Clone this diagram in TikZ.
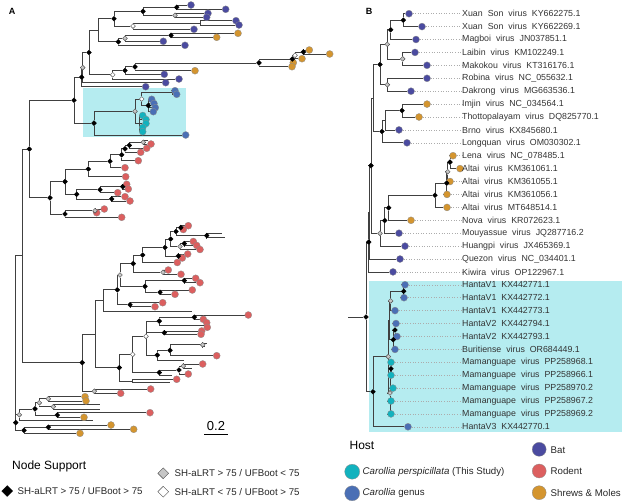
\documentclass[tikz,border=0pt]{standalone}
\usepackage{fontspec}
\setmainfont{Liberation Sans}
\usetikzlibrary{shapes.geometric}
\definecolor{batc}{HTML}{4B4BA0}
\definecolor{rodc}{HTML}{DC5F5F}
\definecolor{shrc}{HTML}{D4952F}
\definecolor{cpec}{HTML}{12B2BE}
\definecolor{cgec}{HTML}{4A6FB5}
\definecolor{boxc}{HTML}{B5ECF0}
\pgfdeclarelayer{back}
\pgfdeclarelayer{edges}
\pgfsetlayers{back,edges,main}
\tikzset{
  br/.style={draw=gray!50!black, line width=0.7pt},
  lead/.style={draw=gray!65, dotted, line width=0.6pt},
  nd/.style={diamond, inner sep=0pt, minimum size=5pt, line width=0.4pt},
  bk/.style={nd, fill=black, draw=black},
  gy/.style={nd, fill=gray!45, draw=black!70},
  wt/.style={nd, fill=white, draw=black!70},
  leaf/.style={circle, inner sep=0pt, minimum size=7pt, draw=black!45, line width=0.3pt},
  bat/.style={leaf, fill=batc},
  rod/.style={leaf, fill=rodc},
  shr/.style={leaf, fill=shrc},
  cpe/.style={leaf, fill=cpec},
  cge/.style={leaf, fill=cgec},
  lab/.style={anchor=west, inner sep=0pt, text=black!80, font={\fontsize{8.8}{10}\selectfont\spaceskip=5pt\relax}},
  legtxt/.style={anchor=west, inner sep=0pt, text=black!85, font=\fontsize{9.7}{11}\selectfont},
  headtxt/.style={anchor=west, inner sep=0pt, font=\fontsize{12}{14}\selectfont},
  panel/.style={inner sep=0pt, font=\bfseries\fontsize{9}{10}\selectfont}
}
\begin{document}
\begin{tikzpicture}[x=1pt, y=-1pt]
    \useasboundingbox (0,0) rectangle (624,501);
    \begin{pgfonlayer}{back}
        \fill[boxc] (83.3,88.3) rectangle (185.7,137.3);
        \fill[boxc] (369.3,280.7) rectangle (621.7,431.7);
    \end{pgfonlayer}
    \node[panel] (pa) at (12,11) {A};
    \node[panel] (pb) at (369,11) {B};

    % ---- panel A: bat clade
    \node[bat] (a0) at (191,5) {};
    \node[bat] (a1) at (225.7,9.3) {};
    \node[bat] (a2) at (208,13.3) {};
    \node[bat] (a3) at (206.7,17.3) {};
    \node[bat] (a4) at (236,20.7) {};
    \node[bat] (a5) at (239,25) {};
    \node[bat] (a6) at (194,29.3) {};
    \node[shr] (a7) at (238,33.3) {};
    \node[shr] (a8) at (216.7,37.3) {};
    \node[bat] (a9) at (163.3,41.3) {};
    \node[bat] (a10) at (185,45.3) {};
    \node[bk] (k1) at (176.7,7.3) {};
    \node[gy] (k2) at (175,15.3) {};
    \node[bk] (k3) at (143,11.3) {};
    \coordinate (k4) at (200,22.85);
    \node[wt] (k5) at (133,26.1) {};
    \node[bk] (k6) at (114,18.7) {};
    \node[bk] (k7) at (171,35.3) {};
    \node[gy] (k8) at (125,38.3) {};
    \node[bk] (k9) at (118.3,41.8) {};
    \coordinate (k10) at (98.3,30.25);
    \node[shr] (c0) at (309.3,50) {};
    \node[shr] (c1) at (329.7,54) {};
    \node[shr] (c2) at (302,58.7) {};
    \node[shr] (c3) at (293.3,62.7) {};
    \node[shr] (c4) at (292,66.7) {};
    \node[bk] (s1) at (303.3,52) {};
    \node[wt] (s2) at (295,55.3) {};
    \node[bk] (s3) at (292.3,59) {};
    \node[bk] (s4) at (259,62.9) {};
    \node[shr] (c5) at (195,70.7) {};
    \node[bk] (m1) at (135,66.8) {};
    \node[bat] (c6) at (164.3,74.3) {};
    \node[bk] (m2) at (125,70.5) {};
    \node[bat] (c7) at (179,79) {};
    \node[wt] (m3) at (112.7,74.8) {};
    \node[bk] (u3) at (89,52.5) {};
    \node[bat] (c8) at (165.7,82.7) {};
    \node[gy] (u2) at (82.7,67.6) {};
    \node[bat] (c9) at (145.7,86.7) {};
    \node[bk] (u1) at (81.7,77.2) {};
    % Carollia
    \node[cge] (d0) at (175,90.7) {};
    \node[cge] (d1) at (176.7,94.3) {};
    \coordinate (w2) at (172,92.5);
    \node[cge] (d2) at (151.7,99.3) {};
    \node[cge] (d3) at (154,103.5) {};
    \node[cge] (d4) at (155.3,107.7) {};
    \node[cge] (d5) at (153.3,111.7) {};
    \node[bk] (w3) at (148.3,105.5) {};
    \node[wt] (w1) at (141.7,99) {};
    \node[cpe] (f0) at (142.7,115.5) {};
    \node[cpe] (f1) at (146,119.5) {};
    \node[cpe] (f2) at (146,123.5) {};
    \node[cpe] (f3) at (142.7,127.5) {};
    \node[cpe] (f4) at (142.7,131.7) {};
    \coordinate (cy) at (139,123.5);
    \node[gy] (w0) at (135,111.3) {};
    \node[cge] (d6) at (185.7,135) {};
    \node[bk] (cn) at (94,123.1) {};
    \node[bk] (u) at (74,100.2) {};
    % rodent clade 1
    \coordinate (x0) at (148,140.5);
    \node[rod] (r0) at (151,144) {};
    \node[rod] (r1) at (146.7,148.3) {};
    \node[rod] (r2) at (140.7,152.3) {};
    \node[rod] (r3) at (138.3,160.7) {};
    \node[rod] (r4) at (125,167.7) {};
    \node[rod] (r5) at (125.7,176.7) {};
    \node[gy] (ld1) at (143.3,142.3) {};
    \node[bk] (ld2) at (129.3,145.3) {};
    \node[bk] (ld3) at (125,148.8) {};
    \node[bk] (ld4) at (121.7,154.8) {};
    \node[bk] (ld5) at (110,161.2) {};
    \node[bk] (ld6) at (88.3,169) {};
    \node[rod] (r6) at (126.7,184.3) {};
    \node[rod] (r7) at (128.3,189) {};
    \node[rod] (r8) at (117.7,192.7) {};
    \node[rod] (r9) at (125,196.7) {};
    \node[rod] (r10) at (130,201) {};
    \node[bk] (q1) at (122.7,186.7) {};
    \node[bk] (q2) at (100,189.7) {};
    \node[bk] (q3) at (111.7,198.9) {};
    \node[bk] (q4) at (76.7,194.3) {};
    \node[bk] (qa) at (65,181.6) {};
    \node[rod] (r11) at (104.3,209) {};
    \node[rod] (r12) at (96.7,212.7) {};
    \node[rod] (r13) at (121.7,217.3) {};
    \node[gy] (q5) at (95,210.8) {};
    \node[bk] (q6) at (65,214) {};
    \node[bk] (r1n) at (50,197.8) {};
    \node[bk] (n1a) at (29.3,149) {};
    % rodent clade 2
    \node[rod] (t1) at (188.3,225.7) {};
    \node[rod] (t2) at (183.3,229.5) {};
    \node[bk] (p1) at (180.7,227.6) {};
    \coordinate (x2) at (222,233.5);
    \coordinate (x3) at (225,237.5);
    \node[bk] (p2) at (206.7,235.5) {};
    \node[bk] (p3) at (176,231.5) {};
    \node[rod] (t3) at (193.3,241.5) {};
    \node[rod] (t4) at (196.7,245.5) {};
    \node[bk] (p4) at (184.3,243.5) {};
    \node[rod] (t5) at (200,249.5) {};
    \node[gy] (p5) at (180,246.5) {};
    \node[bk] (p6) at (170.7,239) {};
    \node[rod] (t6) at (187.7,254) {};
    \node[rod] (t7) at (182.3,258) {};
    \node[bk] (p8) at (178.3,256) {};
    \node[bk] (g5) at (165,247.5) {};
    \node[rod] (t8) at (177.3,262.5) {};
    \node[bk] (g3) at (142.7,255) {};
    \node[rod] (t9) at (168.3,270) {};
    \node[rod] (t10) at (181,274.3) {};
    \node[gy] (g4) at (163,272.2) {};
    \node[bk] (g2) at (133.3,263.6) {};
    \node[rod] (t11) at (195.7,278.3) {};
    \node[rod] (t12) at (200,282.7) {};
    \node[bk] (f5) at (184.3,280.5) {};
    \node[rod] (t13) at (192.3,290) {};
    \node[rod] (t14) at (175,294.3) {};
    \node[bk] (f6) at (160,292.2) {};
    \node[bk] (f7) at (145,286.3) {};
    \node[gy] (g1) at (120,275) {};
    \node[rod] (t15) at (162.7,302.7) {};
    \node[rod] (t16) at (155,306.7) {};
    \node[bk] (f8) at (130,304.7) {};
    \node[bk] (v4) at (117.3,289.8) {};
    \coordinate (x4) at (191.7,311);
    \coordinate (v2) at (103.3,300.4);
    \node[rod] (t17) at (248.3,315) {};
    \node[rod] (t18) at (203.3,319.3) {};
    \node[bk] (e1) at (194.3,317.2) {};
    \node[rod] (t19) at (206.7,322.7) {};
    \node[rod] (t20) at (207.3,327.3) {};
    \coordinate (e3) at (204,325);
    \node[bk] (e2) at (159.3,321.1) {};
    \node[rod] (t21) at (201.7,331) {};
    \node[rod] (t22) at (201,334.3) {};
    \node[bk] (e4) at (164.3,332.7) {};
    \coordinate (x5) at (207,343);
    \coordinate (x6) at (205,346.5);
    \node[gy] (e9) at (202.7,344.8) {};
    \node[rod] (t23) at (216.7,355.7) {};
    \node[bk] (e8) at (170,350.3) {};
    \coordinate (x7) at (184.3,360);
    \node[bk] (e7) at (157.3,355.1) {};
    \node[wt] (e5) at (146,336.3) {};
    \node[rod] (t24) at (202.7,364) {};
    \coordinate (x8) at (192,368);
    \node[gy] (e13) at (183.3,366) {};
    \node[rod] (t25) at (188.3,374) {};
    \node[bk] (e12) at (179,370) {};
    \coordinate (x10) at (172,375);
    \node[bk] (e11) at (159.3,372.5) {};
    \node[wt] (e10) at (132.7,354.4) {};
    \node[rod] (t26) at (176.7,379.3) {};
    \coordinate (x9) at (170,382.7);
    \coordinate (e14) at (132.7,381);
    \node[bk] (v3) at (119.3,367.7) {};
    \coordinate (v1) at (95,334);
    \node[rod] (t27) at (150.7,389) {};
    \node[rod] (t28) at (120.7,393.3) {};
    \node[gy] (gz) at (94.3,391.2) {};
    \node[bk] (m2n) at (82.3,362.6) {};
    % shrew clade at the base
    \node[shr] (t29) at (85,396.7) {};
    \node[shr] (t30) at (86,400.9) {};
    \node[gy] (z5) at (48.3,398.8) {};
    \coordinate (x11) at (100,404.5);
    \coordinate (x12) at (100,408.9);
    \node[gy] (z6) at (53.3,406.7) {};
    \node[gy] (z3) at (39.3,402.8) {};
    \node[rod] (t31) at (150,412.7) {};
    \node[shr] (t32) at (84,417.3) {};
    \node[bk] (z4) at (57.3,415) {};
    \node[bk] (z2) at (35,408.9) {};
    \coordinate (x13) at (93.3,420.7);
    \node[gy] (z1) at (19.3,414.8) {};
    \node[shr] (t33) at (111,425) {};
    \node[shr] (t34) at (133.7,429.3) {};
    \node[bk] (z8) at (48.3,427.2) {};
    \node[shr] (t35) at (80,433.3) {};
    \node[bk] (z7) at (24,430.3) {};
    \node[bk] (z0) at (15.7,422.6) {};
    \coordinate (ra) at (22,255.8);
    \coordinate (root) at (15.7,339);

    \begin{pgfonlayer}{edges}
    \draw[br] (k1) |- (a0) (k1) |- (a1);
    \draw[br] (k2) |- (a2) (k2) |- (a3);
    \draw[br] (k3) |- (k1) (k3) |- (k2);
    \draw[br] (k4) |- (a4) (k4) |- (a5);
    \draw[br] (k5) |- (k4) (k5) |- (a6);
    \draw[br] (k6) |- (k3) (k6) |- (k5);
    \draw[br] (k7) |- (a7) (k7) |- (a8);
    \draw[br] (k8) |- (k7) (k8) |- (a9);
    \draw[br] (k9) |- (k8) (k9) |- (a10);
    \draw[br] (k10) |- (k6) (k10) |- (k9);
    \draw[br] (s1) |- (c0) (s1) |- (c1);
    \draw[br] (s2) |- (s1) (s2) |- (c2);
    \draw[br] (s3) |- (s2) (s3) |- (c3);
    \draw[br] (s4) |- (s3) (s4) |- (c4);
    \draw[br] (m1) |- (s4) (m1) |- (c5);
    \draw[br] (m2) |- (m1) (m2) |- (c6);
    \draw[br] (m3) |- (m2) (m3) |- (c7);
    \draw[br] (u3) |- (k10) (u3) |- (m3);
    \draw[br] (u2) |- (u3) (u2) |- (c8);
    \draw[br] (u1) |- (u2) (u1) |- (c9);
    \draw[br] (w2) |- (d0) (w2) |- (d1);
    \draw[br] (w3) |- (d2) (w3) |- (d3) (w3) |- (d4) (w3) |- (d5);
    \draw[br] (w1) |- (w2) (w1) |- (w3);
    \draw[br] (cy) |- (f0) (cy) |- (f1) (cy) |- (f2) (cy) |- (f3) (cy) |- (f4);
    \draw[br] (w0) |- (w1) (w0) |- (cy);
    \draw[br] (cn) |- (w0) (cn) |- (d6);
    \draw[br] (u) |- (u1) (u) |- (cn);
    \draw[br] (ld1) |- (x0) (ld1) |- (r0);
    \draw[br] (ld2) |- (ld1) (ld2) |- (r1);
    \draw[br] (ld3) |- (ld2) (ld3) |- (r2);
    \draw[br] (ld4) |- (ld3) (ld4) |- (r3);
    \draw[br] (ld5) |- (ld4) (ld5) |- (r4);
    \draw[br] (ld6) |- (ld5) (ld6) |- (r5);
    \draw[br] (q1) |- (r6) (q1) |- (r7);
    \draw[br] (q2) |- (q1) (q2) |- (r8);
    \draw[br] (q3) |- (r9) (q3) |- (r10);
    \draw[br] (q4) |- (q2) (q4) |- (q3);
    \draw[br] (qa) |- (ld6) (qa) |- (q4);
    \draw[br] (q5) |- (r11) (q5) |- (r12);
    \draw[br] (q6) |- (q5) (q6) |- (r13);
    \draw[br] (r1n) |- (qa) (r1n) |- (q6);
    \draw[br] (n1a) |- (u) (n1a) |- (r1n);
    \draw[br] (p1) |- (t1) (p1) |- (t2);
    \draw[br] (p2) |- (x2) (p2) |- (x3);
    \draw[br] (p3) |- (p1) (p3) |- (p2);
    \draw[br] (p4) |- (t3) (p4) |- (t4);
    \draw[br] (p5) |- (p4) (p5) |- (t5);
    \draw[br] (p6) |- (p3) (p6) |- (p5);
    \draw[br] (p8) |- (t6) (p8) |- (t7);
    \draw[br] (g5) |- (p6) (g5) |- (p8);
    \draw[br] (g3) |- (g5) (g3) |- (t8);
    \draw[br] (g4) |- (t9) (g4) |- (t10);
    \draw[br] (g2) |- (g3) (g2) |- (g4);
    \draw[br] (f5) |- (t11) (f5) |- (t12);
    \draw[br] (f6) |- (t13) (f6) |- (t14);
    \draw[br] (f7) |- (f5) (f7) |- (f6);
    \draw[br] (g1) |- (g2) (g1) |- (f7);
    \draw[br] (f8) |- (t15) (f8) |- (t16);
    \draw[br] (v4) |- (g1) (v4) |- (f8);
    \draw[br] (v2) |- (v4) (v2) |- (x4);
    \draw[br] (e1) |- (t17) (e1) |- (t18);
    \draw[br] (e3) |- (t19) (e3) |- (t20);
    \draw[br] (e2) |- (e1) (e2) |- (e3);
    \draw[br] (e4) |- (t21) (e4) |- (t22);
    \draw[br] (e9) |- (x5) (e9) |- (x6);
    \draw[br] (e8) |- (e9) (e8) |- (t23);
    \draw[br] (e7) |- (e8) (e7) |- (x7);
    \draw[br] (e5) |- (e2) (e5) |- (e4) (e5) |- (e7);
    \draw[br] (e13) |- (t24) (e13) |- (x8);
    \draw[br] (e12) |- (e13) (e12) |- (t25);
    \draw[br] (e11) |- (e12) (e11) |- (x10);
    \draw[br] (e10) |- (e5) (e10) |- (e11);
    \draw[br] (e14) |- (t26) (e14) |- (x9);
    \draw[br] (v3) |- (e10) (v3) |- (e14);
    \draw[br] (v1) |- (v2) (v1) |- (v3);
    \draw[br] (gz) |- (t27) (gz) |- (t28);
    \draw[br] (m2n) |- (v1) (m2n) |- (gz);
    \draw[br] (ra) |- (n1a) (ra) |- (m2n);
    \draw[br] (z5) |- (t29) (z5) |- (t30);
    \draw[br] (z6) |- (x11) (z6) |- (x12);
    \draw[br] (z3) |- (z5) (z3) |- (z6);
    \draw[br] (z4) |- (t31) (z4) |- (t32);
    \draw[br] (z2) |- (z3) (z2) |- (z4);
    \draw[br] (z1) |- (z2) (z1) |- (x13);
    \draw[br] (z8) |- (t33) (z8) |- (t34);
    \draw[br] (z7) |- (z8) (z7) |- (t35);
    \draw[br] (z0) |- (z1) (z0) |- (z7);
    \draw[br] (root) |- (ra) (root) |- (z0);
    \end{pgfonlayer}

    % scale bar
    \node[font=\fontsize{13}{14}\selectfont, inner sep=0pt] (sc) at (216,426.5) {0.2};
    \coordinate (sb1) at (204.3,434);
    \coordinate (sb2) at (227.7,434);
    \draw[line width=0.6pt] (sb1) -- (sb2);

    % ---- panel B
    \node[bat] (b0) at (409,13.7) {};
    \node[bat] (b1) at (422,26.6) {};
    \node[bat] (b2) at (416,39.5) {};
    \node[bat] (b3) at (415,52.4) {};
    \node[bat] (b4) at (427,65.3) {};
    \node[bat] (b5) at (427,78.3) {};
    \node[bat] (b6) at (411,91.2) {};
    \node[shr] (b7) at (427,104.1) {};
    \node[shr] (b8) at (419,117) {};
    \node[bat] (b9) at (399,129.9) {};
    \node[bat] (b10) at (407,142.8) {};
    \node[shr] (b11) at (453,155.7) {};
    \node[shr] (b12) at (460,168.6) {};
    \node[shr] (b13) at (450,181.5) {};
    \node[shr] (b14) at (447,194.4) {};
    \node[shr] (b15) at (447,207.4) {};
    \node[shr] (b16) at (411,220.3) {};
    \node[bat] (b17) at (399,233.2) {};
    \node[bat] (b18) at (405,246.1) {};
    \node[bat] (b19) at (400,259) {};
    \node[bat] (b20) at (393,271.9) {};
    \node[cge] (b21) at (405,284.8) {};
    \node[cge] (b22) at (404,297.7) {};
    \node[cge] (b23) at (395,310.6) {};
    \node[cge] (b24) at (396,323.5) {};
    \node[cge] (b25) at (397,336.5) {};
    \node[cge] (b26) at (395,349.4) {};
    \node[cpe] (b27) at (391,362.3) {};
    \node[cpe] (b28) at (391,375.2) {};
    \node[cpe] (b29) at (393,388.1) {};
    \node[cpe] (b30) at (391,401) {};
    \node[cpe] (b31) at (391,413.9) {};
    \node[cge] (b32) at (408,426.8) {};

    \node[lab] (lb0) at (462,13.7) {Xuan Son virus KY662275.1};
    \node[lab] (lb1) at (462,26.6) {Xuan Son virus KY662269.1};
    \node[lab] (lb2) at (462,39.5) {Magboi virus JN037851.1};
    \node[lab] (lb3) at (462,52.4) {Laibin virus KM102249.1};
    \node[lab] (lb4) at (462,65.3) {Makokou virus KT316176.1};
    \node[lab] (lb5) at (462,78.3) {Robina virus NC\_055632.1};
    \node[lab] (lb6) at (462,91.2) {Dakrong virus MG663536.1};
    \node[lab] (lb7) at (462,104.1) {Imjin virus NC\_034564.1};
    \node[lab] (lb8) at (462,117) {Thottopalayam virus DQ825770.1};
    \node[lab] (lb9) at (462,129.9) {Brno virus KX845680.1};
    \node[lab] (lb10) at (462,142.8) {Longquan virus OM030302.1};
    \node[lab] (lb11) at (462,155.7) {Lena virus NC\_078485.1};
    \node[lab] (lb12) at (462,168.6) {Altai virus KM361061.1};
    \node[lab] (lb13) at (462,181.5) {Altai virus KM361055.1};
    \node[lab] (lb14) at (462,194.4) {Altai virus KM361056.1};
    \node[lab] (lb15) at (462,207.4) {Altai virus MT648514.1};
    \node[lab] (lb16) at (462,220.3) {Nova virus KR072623.1};
    \node[lab] (lb17) at (462,233.2) {Mouyassue virus JQ287716.2};
    \node[lab] (lb18) at (462,246.1) {Huangpi virus JX465369.1};
    \node[lab] (lb19) at (462,259) {Quezon virus NC\_034401.1};
    \node[lab] (lb20) at (462,271.9) {Kiwira virus OP122967.1};
    \node[lab] (lb21) at (462,284.8) {HantaV1 KX442771.1};
    \node[lab] (lb22) at (462,297.7) {HantaV1 KX442772.1};
    \node[lab] (lb23) at (462,310.6) {HantaV1 KX442773.1};
    \node[lab] (lb24) at (462,323.5) {HantaV2 KX442794.1};
    \node[lab] (lb25) at (462,336.5) {HantaV2 KX442793.1};
    \node[lab] (lb26) at (462,349.4) {Buritiense virus OR684449.1};
    \node[lab] (lb27) at (462,362.3) {Mamanguape virus PP258968.1};
    \node[lab] (lb28) at (462,375.2) {Mamanguape virus PP258966.1};
    \node[lab] (lb29) at (462,388.1) {Mamanguape virus PP258970.2};
    \node[lab] (lb30) at (462,401) {Mamanguape virus PP258967.2};
    \node[lab] (lb31) at (462,413.9) {Mamanguape virus PP258969.2};
    \node[lab] (lb32) at (462,426.8) {HantaV3 KX442770.1};

    \node[bk] (bxs) at (403.3,20.15) {};
    \node[bk] (bxm) at (390.7,29.8) {};
    \node[gy] (blm) at (402.7,58.85) {};
    \node[gy] (bg2) at (387.3,44.3) {};
    \node[gy] (bg3) at (387.3,84.75) {};
    \node[bk] (bg1) at (380,64.5) {};
    \node[bk] (bhi) at (402,110.55) {};
    \coordinate (bh2) at (385,120.2);
    \node[bk] (bh) at (382,131.5) {};
    \coordinate (bp1) at (373.3,98);
    \node[bk] (bl3) at (450,162.15) {};
    \node[gy] (bl2) at (447.7,171.8) {};
    \node[bk] (bl1) at (446.7,183.1) {};
    \node[bk] (bl0) at (435,195.25) {};
    \node[bk] (bn1) at (388.7,207.8) {};
    \node[bk] (bn2) at (384.7,220.5) {};
    \node[gy] (bn3) at (380,233.3) {};
    \node[bk] (bt) at (371,165.65) {};
    \coordinate (bua) at (369.7,212.3);
    \node[bk] (bu0) at (368.7,242.1) {};
    \node[bk] (bhv) at (403.7,291.25) {};
    \node[gy] (bhc) at (390.7,300.9) {};
    \node[bk] (bhe) at (395,330) {};
    \node[bk] (bhd) at (393.3,339.7) {};
    \coordinate (bhx) at (389.5,320.3);
    \node[bk] (bhm2) at (391,368.75) {};
    \node[gy] (bhm) at (390,392.9) {};
    \node[gy] (bhb) at (388.3,356.6) {};
    \node[bk] (bha) at (373,391.7) {};
    \node[bk] (broot) at (366,317) {};
    \coordinate (bstub) at (348,317);

    \begin{pgfonlayer}{edges}
    \foreach \i in {0,...,32} {\draw[lead] (b\i.east) -- (lb\i.west);}
    \draw[br] (bxs) |- (b0) (bxs) |- (b1);
    \draw[br] (bxm) |- (bxs) (bxm) |- (b2);
    \draw[br] (blm) |- (b3) (blm) |- (b4);
    \draw[br] (bg2) |- (bxm) (bg2) |- (blm);
    \draw[br] (bg3) |- (b5) (bg3) |- (b6);
    \draw[br] (bg1) |- (bg2) (bg1) |- (bg3);
    \draw[br] (bhi) |- (b7) (bhi) |- (b8);
    \draw[br] (bh2) |- (bhi) (bh2) |- (b9);
    \draw[br] (bh) |- (bh2) (bh) |- (b10);
    \draw[br] (bp1) |- (bg1) (bp1) |- (bh);
    \draw[br] (bl3) |- (b11) (bl3) |- (b12);
    \draw[br] (bl2) |- (bl3) (bl2) |- (b13);
    \draw[br] (bl1) |- (bl2) (bl1) |- (b14);
    \draw[br] (bl0) |- (bl1) (bl0) |- (b15);
    \draw[br] (bn1) |- (bl0) (bn1) |- (b16);
    \draw[br] (bn2) |- (bn1) (bn2) |- (b17);
    \draw[br] (bn3) |- (bn2) (bn3) |- (b18);
    \draw[br] (bt) |- (bp1) (bt) |- (bn3);
    \draw[br] (bua) |- (bt) (bua) |- (b19);
    \draw[br] (bu0) |- (bua) (bu0) |- (b20);
    \draw[br] (bhv) |- (b21) (bhv) |- (b22);
    \draw[br] (bhc) |- (bhv) (bhc) |- (b23);
    \draw[br] (bhe) |- (b24) (bhe) |- (b25);
    \draw[br] (bhd) |- (bhe) (bhd) |- (b26);
    \draw[br] (bhx) |- (bhc) (bhx) |- (bhd);
    \draw[br] (bhm2) |- (b27) (bhm2) |- (b28);
    \draw[br] (bhm) |- (bhm2) (bhm) |- (b29) (bhm) |- (b30) (bhm) |- (b31);
    \draw[br] (bhb) |- (bhx) (bhb) |- (bhm);
    \draw[br] (bha) |- (bhb) (bha) |- (b32);
    \draw[br] (broot) |- (bu0) (broot) |- (bha);
    \draw[br] (bstub) -- (broot);
    \end{pgfonlayer}

    % ---- legend
    \node[headtxt] (ns) at (12,466.7) {Node Support};
    \node[bk, minimum size=11pt] (lk1) at (7.2,491) {};
    \node[legtxt] (lt1) at (17.5,491) {SH-aLRT > 75 / UFBoot > 75};
    \node[gy, minimum size=11pt] (lk2) at (163.2,473.3) {};
    \node[legtxt] (lt2) at (174.5,473.3) {SH-aLRT > 75 / UFBoot < 75};
    \node[wt, minimum size=11pt] (lk3) at (163.2,491.7) {};
    \node[legtxt] (lt3) at (174.5,491.7) {SH-aLRT < 75 / UFBoot > 75};
    \node[headtxt] (hs) at (349.4,445) {Host};
    \node[cpe, minimum size=15pt] (lh1) at (352.2,471.7) {};
    \node[legtxt] (lt4) at (362.5,471.7) {\textit{Carollia perspicillata} (This Study)};
    \node[cge, minimum size=15pt] (lh2) at (352.2,493.3) {};
    \node[legtxt] (lt5) at (362.5,493.3) {\textit{Carollia} genus};
    \node[bat, minimum size=14pt] (lh3) at (539.2,449.3) {};
    \node[legtxt] (lt6) at (550.5,450) {Bat};
    \node[rod, minimum size=14pt] (lh4) at (539.2,471) {};
    \node[legtxt] (lt7) at (550.5,471) {Rodent};
    \node[shr, minimum size=14pt] (lh5) at (539.2,492.7) {};
    \node[legtxt] (lt8) at (550.5,492.7) {Shrews \& Moles};
\end{tikzpicture}
\end{document}
